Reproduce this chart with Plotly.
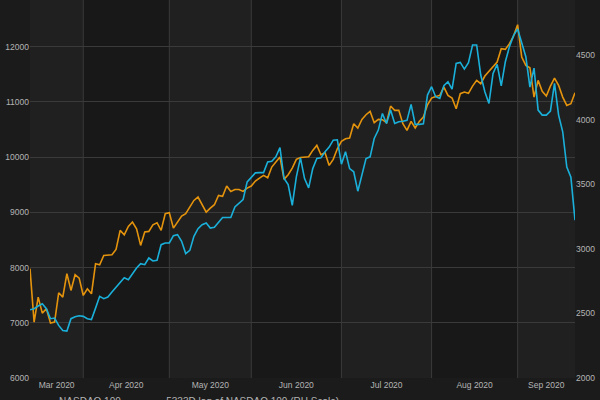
import pandas as pd
import plotly.graph_objects as go

holidays = ["2020-04-10", "2020-05-25", "2020-07-03", "2020-09-07"]
dates = [d for d in pd.bdate_range("2020-03-13", "2020-09-22") if d.strftime("%Y-%m-%d") not in holidays]

nasdaq100 = [
    7980, 7010, 7465, 7175, 7254, 6994, 7012, 7543, 7465, 7888,
    7586, 7870, 7809, 7495, 7616, 7525, 8069, 8051, 8220, 8232,
    8232, 8329, 8673, 8594, 8745, 8824, 8703, 8401, 8643, 8655,
    8775, 8812, 8673, 8975, 8993, 8715, 8836, 8932, 8975, 9095,
    9216, 9277, 9126, 9005, 9077, 9138, 9307, 9289, 9476, 9379,
    9415, 9415, 9379, 9440, 9476, 9566, 9621, 9669, 9627, 9820,
    9911, 10001, 9597, 9681, 9802, 9959, 9995, 10001, 10007, 10122,
    10213, 10043, 10080, 9850, 9959, 10152, 10285, 10333, 10345, 10605,
    10527, 10684, 10768, 10829, 10623, 10684, 10678, 10623, 10925, 10847,
    10847, 10605, 10484, 10647, 10527, 10647, 10726, 10949, 11070, 11100,
    11118, 11269, 11118, 11070, 10877, 11149, 11179, 11155, 11287, 11390,
    11330, 11469, 11553, 11632, 11722, 11964, 11952, 12054, 12193, 12399,
    11813, 11662, 11620, 11088, 11390, 11191, 11106, 11287, 11432, 11300,
    11088, 10937, 10967, 11167,
]

lagged = [
    2528, 2536, 2557, 2575, 2536, 2459, 2464, 2407, 2368, 2363,
    2459, 2474, 2482, 2477, 2459, 2453, 2541, 2632, 2614, 2627,
    2665, 2704, 2743, 2776, 2761, 2807, 2851, 2885, 2877, 2929,
    2906, 2911, 3032, 3045, 3045, 3102, 3110, 3058, 2963, 2988,
    3097, 3156, 3187, 3200, 3161, 3167, 3208, 3242, 3242, 3242,
    3324, 3350, 3381, 3518, 3557, 3588, 3590, 3590, 3673, 3678,
    3712, 3784, 3544, 3497, 3337, 3557, 3704, 3544, 3472, 3621,
    3699, 3704, 3751, 3787, 3841, 3844, 3655, 3751, 3621, 3596,
    3446, 3570, 3699, 3712, 3854, 3919, 4048, 3970, 4074, 3970,
    3983, 3988, 3994, 4118, 3963, 3963, 3968, 4190, 4255, 4177,
    4164, 4262, 4293, 4236, 4435, 4443, 4391, 4441, 4578, 4578,
    4345, 4216, 4125, 4358, 4428, 4262, 4448, 4565, 4650, 4702,
    4603, 4487, 4252, 4399, 4074, 4035, 4035, 4066, 4280, 4035,
    3906, 3632, 3554, 3221,
]

month_starts = ["2020-04-01", "2020-05-01", "2020-06-01", "2020-07-01", "2020-08-03", "2020-09-01"]
light_bands = [("2020-03-13", "2020-04-01"), ("2020-05-01", "2020-06-01"),
               ("2020-07-01", "2020-08-03"), ("2020-09-01", "2020-09-22")]
tick_dates = ["2020-03-23 12:00", "2020-04-16 12:00", "2020-05-15", "2020-06-16",
              "2020-07-17", "2020-08-17 12:00", "2020-09-11"]
tick_text = ["Mar 2020", "Apr 2020", "May 2020", "Jun 2020", "Jul 2020", "Aug 2020", "Sep 2020"]
left_ticks = [6000, 7000, 8000, 9000, 10000, 11000, 12000]
right_ticks = [2000, 2500, 3000, 3500, 4000, 4500]

ORANGE = "#e4930d"
BLUE = "#1ab0da"
TXT = "#b4b4b4"
GRID = "#3a3a3a"

fig = go.Figure()
fig.add_trace(go.Scatter(x=dates, y=nasdaq100, mode="lines", name="NASDAQ 100",
                         line=dict(color=ORANGE, width=1.6), yaxis="y"))
fig.add_trace(go.Scatter(x=dates, y=lagged, mode="lines", name="5333D lag of NASDAQ 100 (RH Scale)",
                         line=dict(color=BLUE, width=1.6), yaxis="y2"))

shapes = []
for a, b in light_bands:
    shapes.append(dict(type="rect", xref="x", yref="paper", x0=a, x1=b, y0=0, y1=1,
                       fillcolor="#202020", line=dict(width=0), layer="below"))
for m in month_starts:
    shapes.append(dict(type="line", xref="x", yref="paper", x0=m, x1=m, y0=0, y1=1,
                       line=dict(color=GRID, width=1), layer="below"))

fig.update_layout(
    width=600, height=400,
    margin=dict(l=30, r=25, t=0, b=22, autoexpand=False),
    paper_bgcolor="#1b1b1b",
    plot_bgcolor="#181818",
    font=dict(family="Liberation Sans, Arial, sans-serif", size=8.5, color=TXT),
    shapes=shapes,
    showlegend=True,
    legend=dict(orientation="h", x=-0.02, xanchor="left", y=-0.022, yanchor="top",
                font=dict(size=10, color=TXT), bgcolor="rgba(0,0,0,0)"),
    xaxis=dict(
        type="date",
        range=[dates[0], dates[-1]],
        rangebreaks=[dict(bounds=["sat", "mon"]), dict(values=holidays)],
        tickvals=tick_dates, ticktext=tick_text,
        showgrid=False, zeroline=False, showline=False, ticks="",
        tickfont=dict(size=8.5, color=TXT),
    ),
    yaxis=dict(
        range=[6000, 12846], tickvals=left_ticks, tickformat="d",
        showgrid=True, gridcolor=GRID, gridwidth=1, zeroline=False,
        showline=False, ticks="", tickfont=dict(size=8.5, color=TXT),
    ),
    yaxis2=dict(
        range=[2000, 4926], tickvals=right_ticks, tickformat="d", overlaying="y", side="right",
        showgrid=False, zeroline=False, showline=False, ticks="",
        tickfont=dict(size=8.5, color=TXT),
    ),
)

fig.write_html("out.html")
